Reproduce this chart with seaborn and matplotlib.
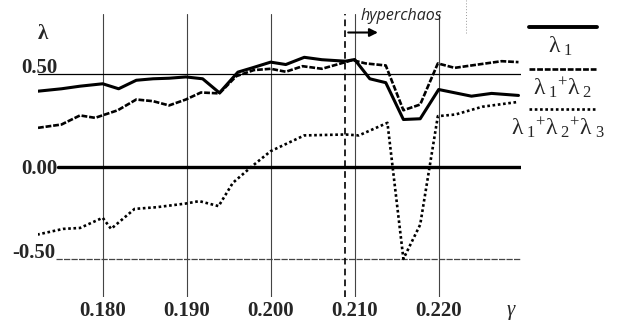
import seaborn as sns
import matplotlib.pyplot as plt
from matplotlib.lines import Line2D

# gamma values and Lyapunov exponent sums
gamma_l1 = [0.1723, 0.1751, 0.1773, 0.1800, 0.1819, 0.1840, 0.1860, 0.1879, 0.1899, 0.1919,
            0.1939, 0.1961, 0.1978, 0.2000, 0.2018, 0.2040, 0.2061, 0.2089, 0.2100, 0.2118,
            0.2137, 0.2158, 0.2178, 0.2200, 0.2239, 0.2263, 0.2295]
lam1 = [0.407, 0.420, 0.434, 0.447, 0.420, 0.466, 0.474, 0.477, 0.484, 0.474,
        0.398, 0.510, 0.533, 0.564, 0.551, 0.590, 0.577, 0.569, 0.578, 0.474,
        0.453, 0.254, 0.258, 0.416, 0.380, 0.395, 0.384]

gamma_l12 = [0.1723, 0.1751, 0.1773, 0.1791, 0.1818, 0.1840, 0.1860, 0.1879, 0.1899, 0.1917,
             0.1939, 0.1959, 0.1980, 0.2000, 0.2018, 0.2038, 0.2061, 0.2089, 0.2097, 0.2113,
             0.2137, 0.2158, 0.2178, 0.2199, 0.2219, 0.2239, 0.2275, 0.2295]
lam12 = [0.209, 0.227, 0.276, 0.263, 0.304, 0.362, 0.353, 0.330, 0.362, 0.400,
         0.395, 0.488, 0.521, 0.528, 0.512, 0.542, 0.528, 0.564, 0.575, 0.557,
         0.546, 0.304, 0.335, 0.557, 0.533, 0.546, 0.569, 0.564]

gamma_l123 = [0.1722, 0.1753, 0.1773, 0.1800, 0.1810, 0.1838, 0.1864, 0.1899, 0.1915, 0.1938,
              0.1955, 0.1978, 0.2000, 0.2040, 0.2089, 0.2105, 0.2139, 0.2158, 0.2178, 0.2199,
              0.2220, 0.2252, 0.2293]
lam123 = [-0.368, -0.337, -0.332, -0.277, -0.337, -0.229, -0.220, -0.200, -0.187, -0.214,
          -0.088, 0.002, 0.083, 0.168, 0.173, 0.168, 0.236, -0.499, -0.314, 0.272,
          0.281, 0.323, 0.348]

xticks = [0.180, 0.190, 0.200, 0.210, 0.220]
xtick_labels = ['0.180', '0.190', '0.200', '0.210', '0.220']
ylevels = [0.50, 0.00, -0.50]
ytick_labels = ['0.50', '0.00', '-0.50']
legend_labels = [r'$\mathregular{λ\,_{1}}$',
                 r'$\mathregular{λ\,_{1}{}^{+}λ\,_{2}}$',
                 r'$\mathregular{λ\,_{1}{}^{+}λ\,_{2}{}^{+}λ\,_{3}}$']
hyper_start = 0.2089

sns.set_style('white')
plt.rcParams['font.family'] = ['Liberation Serif', 'DejaVu Serif']

fig = plt.figure(figsize=(6.22, 3.26), dpi=100)
ax = fig.add_axes([38 / 622, 29 / 326, 483 / 622, 283 / 326])
ax.set_xlim(0.1723, 0.2298)
ax.set_ylim(-0.705, 0.824)
for s in ax.spines.values():
    s.set_visible(False)

# vertical grid + x tick labels
ax.set_xticks(xticks, xtick_labels)
ax.tick_params(axis='x', length=0, pad=3, labelsize=15)
for t in ax.get_xticklabels():
    t.set_fontweight('bold')
ax.set_yticks([])
ax.grid(axis='x', color='#444444', lw=0.8)
ax.grid(axis='y', visible=False)

# horizontal reference lines
ax.axhline(ylevels[0], xmin=0, xmax=1, color='black', lw=0.9)
ax.axhline(ylevels[1], xmin=0.041, xmax=1, color='black', lw=2.4)
ax.axhline(ylevels[2], xmin=0.037, xmax=1, color='#444444', lw=0.9, ls=(0, (5, 1)))

ax.text(0.17468, ylevels[0] + 0.005, ytick_labels[0], ha='right', va='baseline', fontsize=15, fontweight='bold')
ax.text(0.17468, ylevels[1], ytick_labels[1], ha='right', va='center_baseline', fontsize=15, fontweight='bold')
ax.text(0.17440, ylevels[2] + 0.005, ytick_labels[2], ha='right', va='baseline', fontsize=15, fontweight='bold')

sns.lineplot(x=gamma_l1, y=lam1, ax=ax, color='black', lw=2.2, estimator=None)
sns.lineplot(x=gamma_l12, y=lam12, ax=ax, color='black', lw=1.9, estimator=None,
             linestyle=(0, (2.2, 0.7)))
sns.lineplot(x=gamma_l123, y=lam123, ax=ax, color='black', lw=1.9, estimator=None,
             linestyle=(0, (1, 1)))

# hyperchaos marker
ax.axvline(hyper_start, color='black', lw=1.2, ls=(0, (4, 2.5)))
ax.annotate('', xy=(0.2131, 0.724), xytext=(hyper_start, 0.724),
            arrowprops=dict(arrowstyle='-|>', color='black', lw=1.5, mutation_scale=12),
            annotation_clip=False)
ax.text(0.2107, 0.815, 'hyperchaos', ha='left', va='center', fontsize=11.5,
        style='italic', family='Open Sans', clip_on=False)
ax.plot([0.2232, 0.2232], [0.72, 0.9], color='#999999', lw=0.7, ls=(0, (1, 2)), clip_on=False)

# axis symbols
fig.text(43 / 622, 1 - 34 / 326, 'λ', ha='center', va='center', fontsize=15, fontweight='bold')
fig.text(511 / 622, 1 - 311 / 326, 'γ', ha='center', va='center', fontsize=15, style='italic')

# legend drawn at right
styles = [dict(lw=2.8), dict(lw=1.9, ls=(0, (2.2, 0.7))), dict(lw=1.9, ls=(0, (1, 1)))]
line_y = [27, 69, 109]
text_y = [46, 88, 128]
text_x = [560, 563, 558]
for st, ly, ty, tx, lab in zip(styles, line_y, text_y, text_x, legend_labels):
    fig.add_artist(Line2D([529 / 622, 597 / 622], [1 - ly / 326, 1 - ly / 326],
                          color='black', **st))
    fig.text(tx / 622, 1 - ty / 326, lab, ha='center', va='center', fontsize=17)

plt.savefig('out.png', dpi=100)
